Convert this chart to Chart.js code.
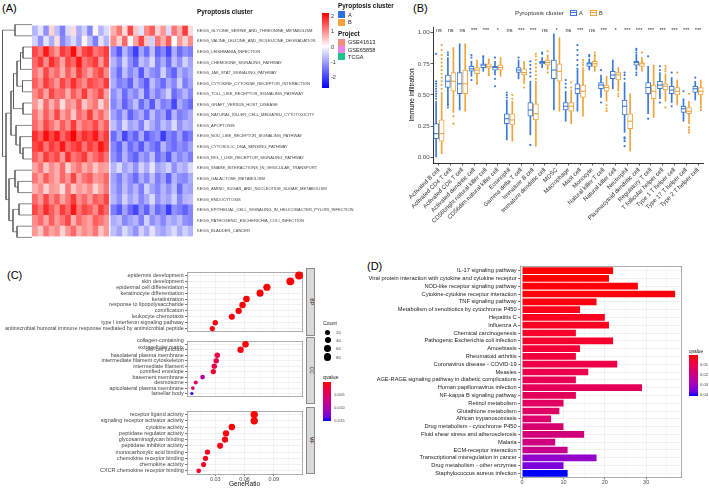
<!DOCTYPE html>
<html><head><meta charset="utf-8"><title>Pyroptosis figure</title>
<script src="https://cdn.jsdelivr.net/npm/chart.js@4.4.1/dist/chart.umd.min.js"></script>
<style>
html,body{margin:0;padding:0;background:#fff;}
body{position:relative;width:709px;height:488px;overflow:hidden;font-family:'Liberation Sans',Arial,sans-serif;}
.box{position:absolute;}
.box canvas{display:block;}
.t{position:absolute;white-space:nowrap;line-height:1;color:#1a1a1a;transform:scale(0.5);transform-origin:left top;}
.strip{position:absolute;background:#d9d9d9;border:0.6px solid #8a8a8a;box-sizing:border-box;display:flex;align-items:center;justify-content:center;overflow:visible;}
.strip span{writing-mode:vertical-rl;font-size:10px;line-height:1;color:#1a1a1a;transform:scale(0.5);}
.sw{position:absolute;}
</style></head><body>
<script>
// ---------------- DATA ----------------
// Panel A: heatmap
const heatTerms = ['KEGG_GLYCINE_SERINE_AND_THREONINE_METABOLISM','KEGG_VALINE_LEUCINE_AND_ISOLEUCINE_DEGRADATION','KEGG_LEISHMANIA_INFECTION','KEGG_CHEMOKINE_SIGNALING_PATHWAY','KEGG_JAK_STAT_SIGNALING_PATHWAY','KEGG_CYTOKINE_CYTOKINE_RECEPTOR_INTERACTION','KEGG_TOLL_LIKE_RECEPTOR_SIGNALING_PATHWAY','KEGG_GRAFT_VERSUS_HOST_DISEASE','KEGG_NATURAL_KILLER_CELL_MEDIATED_CYTOTOXICITY','KEGG_APOPTOSIS','KEGG_NOD_LIKE_RECEPTOR_SIGNALING_PATHWAY','KEGG_CYTOSOLIC_DNA_SENSING_PATHWAY','KEGG_RIG_I_LIKE_RECEPTOR_SIGNALING_PATHWAY','KEGG_SNARE_INTERACTIONS_IN_VESICULAR_TRANSPORT','KEGG_GALACTOSE_METABOLISM','KEGG_AMINO_SUGAR_AND_NUCLEOTIDE_SUGAR_METABOLISM','KEGG_ENDOCYTOSIS','KEGG_EPITHELIAL_CELL_SIGNALING_IN_HELICOBACTER_PYLORI_INFECTION','KEGG_PATHOGENIC_ESCHERICHIA_COLI_INFECTION','KEGG_BLADDER_CANCER'];
const heatRowsA = [
[-0.8,-0.3,-1.2,0.4,-0.7,-1.4,-0.4,0.3,-0.9,-0.5,-1.3,0.1,-0.8,-0.4],
[-0.5,-1.2,-0.3,-0.9,0.3,-1.3,-0.8,-0.4,-1.0,0.1,-0.7,-1.4,-0.3,-0.8],
[1.6,1.2,2.0,1.3,0.9,1.7,1.4,2.1,1.0,1.6,1.8,1.2,1.4,1.7],
[1.3,1.7,1.0,1.8,1.4,0.8,1.6,1.3,2.0,1.2,1.4,1.7,0.9,1.6],
[1.2,0.8,1.6,1.0,1.3,0.7,1.4,0.9,1.7,1.2,0.8,1.3,1.6,1.0],
[1.4,1.0,1.7,1.3,0.9,1.6,1.2,1.8,1.3,1.0,1.6,1.4,1.2,1.7],
[1.0,1.4,0.8,1.6,1.2,1.3,0.7,1.4,1.0,1.7,0.9,1.2,1.6,0.8],
[0.9,0.4,1.3,0.7,1.2,0.3,1.0,0.8,1.4,0.5,0.9,1.2,0.4,1.0],
[1.2,0.7,1.4,0.9,1.6,0.8,1.2,0.5,1.3,1.0,1.7,0.9,1.3,0.8],
[1.3,0.9,1.6,1.2,0.8,1.4,1.0,1.7,0.9,1.3,1.2,1.6,1.0,1.4],
[1.8,1.4,2.1,1.6,2.0,1.3,1.7,2.2,1.4,1.8,1.6,2.0,1.3,1.7],
[1.6,1.8,1.2,1.7,1.4,2.0,1.3,1.6,1.8,1.2,1.7,1.4,2.0,1.6],
[1.4,1.0,1.7,1.3,1.6,0.9,1.8,1.2,1.4,1.7,1.0,1.3,1.6,1.2],
[0.8,1.2,0.5,1.0,0.7,1.3,0.4,0.9,1.2,0.7,1.0,0.5,0.9,0.8],
[1.2,0.8,1.4,1.0,0.7,1.3,0.9,1.6,0.8,1.2,1.4,0.9,1.0,1.3],
[0.7,1.0,0.4,0.9,0.8,0.3,1.2,0.5,0.9,0.7,1.0,0.4,0.8,1.2],
[1.3,0.9,1.6,1.0,1.4,0.8,1.2,1.7,1.0,1.3,0.9,1.4,1.2,1.6],
[1.6,1.2,1.8,1.4,1.0,1.7,1.3,2.0,1.2,1.6,1.4,1.0,1.7,1.3],
[1.0,1.3,0.8,1.4,0.9,1.2,1.6,0.7,1.3,1.0,0.8,1.4,1.2,0.9],
[0.9,0.5,1.2,0.8,1.0,0.4,0.9,1.3,0.7,1.0,0.8,1.2,0.5,0.9]];
const heatRowsB = [
[0.7,1.2,0.3,1.6,0.5,-0.3,1.0,1.4,0.4,0.9,-0.4,1.2,0.7,1.7,0.3],
[1.0,0.4,1.3,-0.1,0.8,1.6,0.5,-0.5,1.2,0.7,1.4,0.0,0.9,0.4,1.0],
[-1.2,-1.8,-0.8,-1.4,-2.1,-1.0,-1.6,-0.7,-1.7,-1.3,-2.0,-0.9,-1.6,-1.2,-1.4],
[-0.8,-1.3,-0.5,-1.2,-1.7,-0.7,-1.0,-0.4,-1.4,-0.9,-1.6,-0.7,-1.2,-0.5,-1.0],
[-1.0,-1.6,-0.7,-1.3,-0.9,-1.8,-0.8,-1.2,-1.4,-0.5,-1.3,-1.7,-0.8,-1.2,-0.9],
[-0.9,-1.4,-1.2,-1.7,-0.8,-1.3,-1.8,-0.7,-1.2,-1.6,-0.9,-1.3,-0.5,-1.4,-1.0],
[-1.2,-0.8,-1.6,-1.0,-1.3,-0.7,-1.7,-0.9,-1.4,-1.0,-0.5,-1.6,-1.2,-0.8,-1.3],
[-1.3,-0.9,-1.7,-1.2,-0.7,-1.6,-1.0,-1.8,-0.8,-1.4,-1.2,-2.0,-0.9,-1.3,-1.6],
[-1.0,-1.4,-0.8,-1.7,-1.2,-0.9,-1.6,-0.7,-1.3,-1.0,-1.8,-0.8,-1.4,-1.2,-0.9],
[-0.7,-1.2,-0.4,-1.0,-0.8,-1.4,-0.5,-0.9,-1.3,-0.7,-1.0,-0.4,-1.2,-0.8,-0.9],
[-1.6,-1.0,-2.0,-1.3,-1.7,-0.9,-1.8,-1.4,-1.2,-2.1,-1.3,-1.6,-1.0,-1.7,-1.4],
[-1.3,-1.7,-0.9,-1.6,-1.2,-1.8,-1.0,-1.4,-1.7,-0.8,-1.3,-1.6,-1.2,-1.4,-1.0],
[-1.2,-1.6,-0.8,-1.4,-1.7,-1.0,-1.3,-0.7,-1.6,-1.2,-1.8,-0.9,-1.3,-1.0,-1.4],
[-0.8,-0.4,-1.0,-0.7,-1.2,-0.5,-0.9,-0.3,-1.0,-0.8,-0.5,-1.2,-0.7,-0.9,-0.4],
[-1.0,-1.4,-0.8,-1.2,-1.6,-0.9,-1.3,-0.7,-1.4,-1.0,-1.7,-0.8,-1.2,-1.3,-0.9],
[-0.9,-1.3,-0.7,-1.2,-0.8,-1.4,-0.5,-1.0,-1.3,-0.8,-1.2,-0.7,-1.6,-0.9,-1.0],
[-0.8,-1.2,-0.5,-1.0,-0.7,-1.3,-0.9,-0.4,-1.2,-0.8,-1.0,-0.5,-1.3,-0.8,-0.7],
[-1.4,-1.8,-1.0,-1.6,-2.0,-1.2,-1.7,-0.9,-1.6,-1.3,-2.1,-1.2,-1.4,-1.7,-1.3],
[-0.9,-0.7,-1.3,-1.0,-0.8,-1.4,-0.5,-1.2,-0.9,-1.3,-0.8,-1.0,-0.7,-1.2,-1.3],
[-0.7,-1.0,-0.4,-0.8,-1.2,-0.5,-0.9,-0.3,-0.8,-1.0,-0.7,-0.4,-0.9,-0.5,-0.8]];
const projectA = ['TCGA','TCGA','TCGA','TCGA','TCGA','TCGA','TCGA','TCGA','GSE41613','GSE41613','GSE65858','GSE65858','GSE65858','GSE65858'];
const projectB = ['TCGA','TCGA','TCGA','TCGA','TCGA','TCGA','TCGA','TCGA','GSE41613','GSE41613','GSE65858','GSE65858','GSE65858','GSE65858','GSE65858'];
// row dendrogram merges: [child1, child2, height]; negative = leaf row, positive = earlier merge
const dendroMerges = [[-1,-2,17],[-3,-4,9],[2,-5,11.5],[-6,-7,9.5],[3,4,15],[-8,-9,9],[5,6,18.5],[-12,-13,9],[-11,8,12],[-10,9,16],[7,10,21],[-15,-16,14],[-14,12,17],[-17,-18,13],[-19,-20,15],[14,15,19],[13,16,23],[11,17,26],[1,18,29.5]];
const heatLegendTicks = [2,1,0,-1,-2];

// Panel B: boxplots
const cellTypes = ['Activated B cell','Activated CD4 T cell','Activated CD8 T cell','Activated dendritic cell','CD56bright natural killer cell','CD56dim natural killer cell','Eosinophil','Gamma delta T cell','Immature B cell','Immature dendritic cell','MDSC','Macrophage','Mast cell','Monocyte','Natural killer T cell','Natural killer cell','Neutrophil','Plasmacytoid dendritic cell','Regulatory T cell','T follicular helper cell','Type 1 T helper cell','Type 17 T helper cell','Type 2 T helper cell'];
const sigLabels = ['ns','ns','ns','***','***','*','ns','***','***','ns','*','ns','***','ns','***','*','***','***','***','***','***','***','***'];
const medA = [0.19,0.61,0.59,0.71,0.74,0.72,0.31,0.70,0.38,0.76,0.70,0.41,0.55,0.75,0.58,0.66,0.41,0.76,0.56,0.58,0.54,0.39,0.55];
const q1A  = [0.15,0.56,0.51,0.69,0.72,0.70,0.27,0.68,0.33,0.75,0.63,0.38,0.51,0.73,0.55,0.63,0.34,0.74,0.51,0.55,0.51,0.36,0.52];
const q3A  = [0.27,0.66,0.68,0.73,0.75,0.73,0.35,0.72,0.44,0.77,0.78,0.44,0.59,0.76,0.60,0.69,0.46,0.77,0.60,0.61,0.57,0.41,0.57];
const loA  = [0.00,0.42,0.38,0.65,0.69,0.66,0.14,0.63,0.18,0.72,0.38,0.29,0.37,0.70,0.48,0.55,0.20,0.70,0.35,0.47,0.44,0.29,0.46];
const hiA  = [0.45,0.80,0.91,0.77,0.79,0.77,0.46,0.78,0.61,0.80,0.99,0.53,0.70,0.79,0.66,0.78,0.60,0.81,0.73,0.68,0.64,0.47,0.61];
const medB = [0.19,0.61,0.59,0.70,0.73,0.72,0.30,0.68,0.35,0.76,0.69,0.41,0.53,0.75,0.56,0.66,0.29,0.75,0.53,0.57,0.53,0.37,0.53];
const q1B  = [0.13,0.53,0.51,0.67,0.715,0.70,0.26,0.66,0.30,0.74,0.61,0.37,0.48,0.73,0.53,0.62,0.23,0.73,0.47,0.54,0.50,0.35,0.50];
const q3B  = [0.30,0.68,0.70,0.72,0.75,0.74,0.35,0.71,0.43,0.78,0.75,0.44,0.58,0.77,0.58,0.68,0.35,0.76,0.58,0.59,0.56,0.40,0.56];
const loB  = [0.03,0.36,0.37,0.61,0.68,0.65,0.13,0.59,0.09,0.70,0.37,0.27,0.33,0.69,0.45,0.53,0.05,0.69,0.32,0.45,0.42,0.27,0.42];
const hiB  = [0.52,0.88,0.91,0.78,0.79,0.80,0.45,0.77,0.61,0.82,0.96,0.54,0.72,0.80,0.65,0.72,0.51,0.80,0.74,0.67,0.62,0.45,0.62];
const outA = [[0.47,0.49,0.51,0.53,0.55,0.57,0.59,0.61,0.83],[0.40,0.42,0.82,0.84],[],[0.62,0.80,0.82],[0.80,0.81],[0.57,0.63,0.80],[0.48,0.50,0.52],[0.80],[0.10,0.65,0.68,0.71,0.74,0.77],[0.83,0.84],[],[0.56,0.59,0.62],[0.71,0.74,0.78,0.82,0.86,0.90],[0.81,0.82],[0.44,0.70],[],[0.09,0.13,0.15,0.16,0.63,0.66,0.68],[0.66,0.68,0.82,0.84,0.86,0.87],[0.31,0.81],[0.44,0.70,0.73],[0.41,0.68],[0.53],[0.64]];
const outB = [[0.55,0.58,0.61,0.64,0.67,0.70,0.73,0.76,0.79,0.82,0.86,0.90],[0.27,0.33],[],[0.59,0.60],[0.66,0.67],[],[0.47,0.50],[0.56],[0.63,0.66,0.69,0.72,0.75,0.78,0.81,0.83],[0.68,0.85],[],[0.56,0.60],[0.74,0.76,0.78],[0.81,0.82,0.84],[0.37,0.39,0.42],[0.49,0.51],[],[0.84],[],[0.40,0.69,0.71,0.73],[0.68],[0.20,0.22,0.24,0.51],[0.38,0.40,0.41]];
const boxYTicks = [0,0.25,0.5,0.75,1];

// Panel C: GO dot plot
const bpTerms = ['epidermis development','skin development','epidermal cell differentiation','keratinocyte differentiation','keratinization','response to lipopolysaccharide','cornification','leukocyte chemotaxis','type I interferon signaling pathway','antimicrobial humoral immune response mediated by antimicrobial peptide'];
const bpRatio = [0.116,0.107,0.083,0.076,0.062,0.058,0.054,0.047,0.030,0.027];
const bpCount = [94,87,67,62,50,47,44,38,24,22];
const bpQ = [0.00001,0.00001,0.00002,0.00003,0.0001,0.0001,0.0002,0.0003,0.0004,0.0006];
const ccTerms = [['collagen-containing','extracellular matrix'],'cell-cell junction','basolateral plasma membrane','intermediate filament cytoskeleton','intermediate filament','cornified envelope','basement membrane','desmosome','apicolateral plasma membrane','lamellar body'];
const ccRatio = [0.061,0.056,0.032,0.031,0.029,0.028,0.017,0.010,0.007,0.006];
const ccCount = [49,45,26,25,23,22,14,8,6,5];
const ccQ = [0.0002,0.0006,0.0030,0.0033,0.0036,0.0022,0.0095,0.0048,0.0055,0.0150];
const mfTerms = ['receptor ligand activity','signaling receptor activator activity','cytokine activity','peptidase regulator activity','glycosaminoglycan binding','peptidase inhibitor activity','monocarboxylic acid binding','chemokine receptor binding','chemokine activity','CXCR chemokine receptor binding'];
const mfRatio = [0.070,0.070,0.047,0.041,0.040,0.035,0.022,0.020,0.018,0.013];
const mfCount = [73,73,49,43,42,37,23,21,19,14];
const mfQ = [0.00001,0.00001,0.0001,0.0003,0.0004,0.0006,0.0012,0.0010,0.0011,0.0020];
const countLegend = [20,40,60,80];
const goQTicks = [0.005,0.010,0.015];

// Panel D: KEGG bar chart
const keggTerms = ['IL-17 signaling pathway','Viral protein interaction with cytokine and cytokine receptor','NOD-like receptor signaling pathway','Cytokine-cytokine receptor interaction','TNF signaling pathway','Metabolism of xenobiotics by cytochrome P450','Hepatitis C','Influenza A','Chemical carcinogenesis','Pathogenic Escherichia coli infection','Amoebiasis','Rheumatoid arthritis','Coronavirus disease - COVID-19','Measles','AGE-RAGE signaling pathway in diabetic complications','Human papillomavirus infection','NF-kappa B signaling pathway','Retinol metabolism','Glutathione metabolism','African trypanosomiasis','Drug metabolism - cytochrome P450','Fluid shear stress and atherosclerosis','Malaria','ECM-receptor interaction','Transcriptional misregulation in cancer','Drug metabolism - other enzymes','Staphylococcus aureus infection'];
const keggCount = [22,21,28,37,18,14,20,21,13,22,14,13,23,16,13,29,13,10,9,7,10,15,8,11,18,10,11];
const keggQ = [0.0010,0.0012,0.0014,0.0015,0.0020,0.0030,0.0035,0.0040,0.0050,0.0055,0.0070,0.0080,0.0095,0.0105,0.0115,0.0125,0.0130,0.0140,0.0150,0.0160,0.0170,0.0190,0.0200,0.0220,0.0330,0.0360,0.0420];
const keggQTicks = [0.01,0.02,0.03,0.04];

// ---------------- STYLE / HELPERS ----------------
const FONT = "'Liberation Sans', Arial, sans-serif";
Chart.defaults.font.family = FONT;
Chart.defaults.animation = false;
Chart.defaults.events = [];
Chart.defaults.responsive = false;
Chart.defaults.devicePixelRatio = 1;
Chart.defaults.plugins.legend.display = false;
Chart.defaults.plugins.tooltip.enabled = false;

const colA = '#3B78D8', colB = '#EEA43C';
const clusterColors = {A: '#2F6FE0', B: '#F7A23A'};
const projectColors = {GSE41613: '#F28B82', GSE65858: '#EE82EE', TCGA: '#1EC28B'};

function addCanvas(x, y, w, h) {
  const d = document.createElement('div'); d.className = 'box';
  Object.assign(d.style, {left: x + 'px', top: y + 'px', width: w + 'px', height: h + 'px'});
  const c = document.createElement('canvas'); c.width = w; c.height = h;
  c.style.width = w + 'px'; c.style.height = h + 'px';
  d.appendChild(c); document.body.appendChild(d); return c;
}
function txt(s, x, y, size, o = {}) {
  const e = document.createElement('div'); e.className = 't'; e.textContent = s;
  e.style.fontSize = (size * 2) + 'px';
  e.style.left = x + 'px'; e.style.top = (y - size * 0.5) + 'px';
  if (o.bold) e.style.fontWeight = 'bold';
  if (o.color) e.style.color = o.color;
  document.body.appendChild(e); return e;
}
function rect(x, y, w, h, css) {
  const e = document.createElement('div'); e.className = 'sw';
  Object.assign(e.style, {left: x + 'px', top: y + 'px', width: w + 'px', height: h + 'px'}, css);
  document.body.appendChild(e); return e;
}
function heatColor(v) {
  if (v >= 0) { const t = Math.min(v / 2.2, 1); const c = Math.round(255 * (1 - t)); return `rgb(255,${c},${c})`; }
  const t = Math.min(-v / 2.75, 1); const c = Math.round(255 * (1 - t)); return `rgb(${c},${c},255)`;
}
function toLin(c){c/=255;return c<=0.04045?c/12.92:Math.pow((c+0.055)/1.055,2.4);}
function toS(c){c=c<=0.0031308?12.92*c:1.055*Math.pow(c,1/2.4)-0.055;return Math.round(Math.max(0,Math.min(1,c))*255);}
function rgb2lab(r,g,b){const R=toLin(r),G=toLin(g),B=toLin(b);
  const X=(0.4124*R+0.3576*G+0.1805*B)/0.95047,Y=0.2126*R+0.7152*G+0.0722*B,Z=(0.0193*R+0.1192*G+0.9505*B)/1.08883;
  const f=t=>t>0.008856?Math.cbrt(t):7.787*t+16/116;const fx=f(X),fy=f(Y),fz=f(Z);
  return [116*fy-16,500*(fx-fy),200*(fy-fz)];}
function lab2rgb(L,a,b){const fy=(L+16)/116,fx=fy+a/500,fz=fy-b/200;
  const fi=t=>t>0.206893?t*t*t:(t-16/116)/7.787;
  const X=fi(fx)*0.95047,Y=fi(fy),Z=fi(fz)*1.08883;
  const R=3.2406*X-1.5372*Y-0.4986*Z,G=-0.9689*X+1.8758*Y+0.0415*Z,B=0.0557*X-0.2040*Y+1.0570*Z;
  return 'rgb('+toS(R)+','+toS(G)+','+toS(B)+')';}
const LAB_RED = rgb2lab(255,0,0), LAB_BLUE = rgb2lab(0,0,255);
function gradColor(t){t=Math.max(0,Math.min(1,t));return lab2rgb(...LAB_RED.map((v,i)=>v+(LAB_BLUE[i]-v)*t));}
function gradCSS(){const s=[];for(let k=0;k<=10;k++)s.push(gradColor(k/10)+' '+(k*10)+'%');return 'linear-gradient(to bottom,'+s.join(',')+')';}
const GO_Q = [0, 0.0155], KEGG_Q = [0.001, 0.042];
const goColor = q => gradColor((q - GO_Q[0]) / (GO_Q[1] - GO_Q[0]));
const keggColor = q => gradColor((q - KEGG_Q[0]) / (KEGG_Q[1] - KEGG_Q[0]));
const allCounts = bpCount.concat(ccCount, mfCount);
const CMIN = Math.min(...allCounts), CMAX = Math.max(...allCounts);
const sizeFor = c => 1.6 + 2.4 * Math.sqrt(Math.max(0, c - CMIN) / (CMAX - CMIN));
const frameAxes = (color) => ({
  xTop: {type: 'linear', position: 'top', display: true, grid: {display: false, drawTicks: false}, ticks: {display: false}, border: {display: true, color, width: 0.7}, afterFit: s => { s.height = 0; }},
  yRight: {type: 'linear', position: 'right', display: true, grid: {display: false, drawTicks: false}, ticks: {display: false}, border: {display: true, color, width: 0.7}, afterFit: s => { s.width = 0; }}
});

// ---------------- PANEL LABELS ----------------
txt('(A)', 2, 8.5, 11, {color: '#000'});
txt('(B)', 413, 8.5, 11, {color: '#000'});
txt('(C)', 7, 275, 11, {color: '#000'});
txt('(D)', 367, 266, 11, {color: '#000'});

// ---------------- PANEL A ----------------
// dendrogram
(function () {
  const nodes = [];
  const info = id => id < 0 ? {y: -id, h: 0} : nodes[id - 1];
  const datasets = dendroMerges.map(([a, b, h]) => {
    const A = info(a), B = info(b);
    nodes.push({y: (A.y + B.y) / 2, h});
    return {data: [{x: A.h, y: A.y}, {x: h, y: A.y}, {x: h, y: B.y}, {x: B.h, y: B.y}],
      showLine: true, pointRadius: 0, borderColor: '#555', borderWidth: 0.7, fill: false, clip: false};
  });
  new Chart(addCanvas(0, 19, 32, 224), {
    type: 'scatter', data: {datasets},
    options: {layout: {padding: 0},
      scales: {x: {type: 'linear', display: false, reverse: true, min: 0, max: 32},
               y: {type: 'linear', display: false, reverse: true, min: 0.5, max: 20.5}}}
  });
})();

const GAP = 0.36;
const nA = heatRowsA[0].length, nB = heatRowsB[0].length;
const heatTotal = nA + GAP + nB;

// annotation bars
(function () {
  const ds = [];
  const col = (cl, pr) => ({data: [1, 1], backgroundColor: [clusterColors[cl], projectColors[pr]], borderWidth: 0, barPercentage: 0.9, categoryPercentage: 1});
  projectA.forEach(p => ds.push(col('A', p)));
  ds.push({data: [GAP, GAP], backgroundColor: 'rgba(0,0,0,0)', borderWidth: 0, barPercentage: 0.9, categoryPercentage: 1});
  projectB.forEach(p => ds.push(col('B', p)));
  new Chart(addCanvas(32, 4, 290, 14), {
    type: 'bar', data: {labels: ['Pyroptosis cluster', 'Project'], datasets: ds},
    options: {indexAxis: 'y', layout: {padding: 0},
      scales: {x: {stacked: true, display: false, min: 0, max: heatTotal},
               y: {stacked: true, position: 'right', grid: {display: false, drawTicks: false}, border: {display: false},
                   ticks: {font: {size: 6.4, weight: 'bold'}, color: '#111', padding: 4}, afterFit: s => { s.width = 129; }}}}
  });
})();

// heatmap
(function () {
  const ds = [];
  const cell = vals => ({data: vals.map(() => 1), backgroundColor: vals.map(heatColor), borderWidth: 0, barPercentage: 1, categoryPercentage: 1});
  for (let c = 0; c < nA; c++) ds.push(cell(heatRowsA.map(r => r[c])));
  ds.push({data: heatTerms.map(() => GAP), backgroundColor: 'rgba(0,0,0,0)', borderWidth: 0, barPercentage: 1, categoryPercentage: 1, inflateAmount: 0});
  for (let c = 0; c < nB; c++) ds.push(cell(heatRowsB.map(r => r[c])));
  new Chart(addCanvas(32, 19, 330, 224), {
    type: 'bar', data: {labels: heatTerms, datasets: ds},
    options: {indexAxis: 'y', layout: {padding: 0},
      scales: {x: {stacked: true, display: false, min: 0, max: heatTotal},
               y: {stacked: true, position: 'right', grid: {display: false, drawTicks: false}, border: {display: false},
                   ticks: {font: {size: 4.1}, color: '#444', padding: 4, autoSkip: false}, afterFit: s => { s.width = 169; }}}}
  });
})();

// heatmap legends (color key + annotation keys)
rect(322, 13, 6.5, 75, {background: 'linear-gradient(to bottom, rgb(255,0,0) 0%, #ffffff 44.4%, rgb(0,0,255) 100%)'});
heatLegendTicks.forEach(v => txt(String(v), 330.5, 13 + (2.2 - v) / 4.95 * 75, 5.6, {color: '#333'}));
txt('Pyroptosis cluster', 338, 6, 6.4, {bold: true, color: '#111'});
rect(338, 11, 7, 7, {background: clusterColors.A});
txt('A', 348, 14.5, 5.6, {color: '#222'});
rect(338, 18.5, 7, 7, {background: clusterColors.B});
txt('B', 348, 22, 5.6, {color: '#222'});
txt('Project', 338, 34, 6.4, {bold: true, color: '#111'});
['GSE41613', 'GSE65858', 'TCGA'].forEach((p, i) => {
  rect(338, 38.5 + i * 7.3, 7, 7, {background: projectColors[p]});
  txt(p, 348, 42 + i * 7.3, 5.6, {color: '#222'});
});

// ---------------- PANEL B ----------------
(function () {
  const off = 0.235;
  const pos = (i, s) => i + 1 + s * off;
  const mk = (lo, hi, s) => lo.map((v, i) => ({x: pos(i, s), y: [v, hi[i]]}));
  const pts = (arr, s) => arr.map((v, i) => ({x: pos(i, s), y: v}));
  const outs = (arr, s) => arr.flatMap((o, i) => o.map(v => ({x: pos(i, s), y: v})));
  const whisker = (lo, hi, s, c) => ({type: 'bar', data: mk(lo, hi, s), backgroundColor: c, barThickness: 1, grouped: false, borderWidth: 0, order: 4});
  const box = (q1, q3, s, c) => ({type: 'bar', data: mk(q1, q3, s), backgroundColor: '#fff', borderColor: c, borderWidth: 1, borderSkipped: false, barThickness: 5, grouped: false, order: 3});
  const med = (m, s, c) => ({type: 'scatter', data: pts(m, s), pointStyle: 'line', pointRadius: 2.5, borderColor: c, borderWidth: 1.1, order: 2});
  const out = (o, s, c) => ({type: 'scatter', data: outs(o, s), pointRadius: 1.1, backgroundColor: c, borderWidth: 0, order: 1});
  const sigPlugin = {id: 'sig', afterDatasetsDraw(chart) {
    const {ctx, scales: {x, y}} = chart; ctx.save();
    ctx.font = '5.6px ' + FONT; ctx.fillStyle = '#333'; ctx.textAlign = 'center'; ctx.textBaseline = 'middle';
    sigLabels.forEach((s, i) => ctx.fillText(s, x.getPixelForValue(i + 1), y.getPixelForValue(1.02)));
    ctx.restore(); }};
  new Chart(addCanvas(400, 0, 309, 240), {
    type: 'bar',
    data: {datasets: [whisker(loA, hiA, -1, colA), whisker(loB, hiB, 1, colB), box(q1A, q3A, -1, colA), box(q1B, q3B, 1, colB),
                      med(medA, -1, colA), med(medB, 1, colB), out(outA, -1, colA), out(outB, 1, colB)]},
    plugins: [sigPlugin],
    options: {layout: {padding: {top: 27, right: 2, left: 0, bottom: 0}},
      scales: {
        x: {type: 'linear', min: 0.5, max: cellTypes.length + 0.5, offset: false,
            afterBuildTicks: s => { s.ticks = cellTypes.map((_, i) => ({value: i + 1})); },
            ticks: {callback: (v, i) => cellTypes[i], autoSkip: false, minRotation: 45, maxRotation: 45, font: {size: 6}, color: '#333', padding: 1},
            grid: {display: true, drawOnChartArea: false, offset: false, tickLength: 2.5, tickColor: '#333', tickWidth: 0.8},
            border: {display: true, color: '#000', width: 0.8},
            afterFit: s => { s.height = 77; }},
        y: {type: 'linear', min: -0.045, max: 1.045,
            afterBuildTicks: s => { s.ticks = boxYTicks.map(v => ({value: v})); },
            ticks: {callback: v => v.toFixed(2), font: {size: 6.2}, color: '#4d4d4d', padding: 0.8},
            grid: {display: true, drawOnChartArea: false, tickLength: 2.5, tickColor: '#333', tickWidth: 0.8},
            border: {display: true, color: '#000', width: 0.8},
            title: {display: true, text: 'Immune infiltration', font: {size: 6.5}, color: '#000', padding: {top: 8, bottom: 0}},
            afterFit: s => { s.width = 33; }}
      }}
  });
  // legend
  txt('Pyroptosis cluster', 515, 12.7, 6.2, {color: '#333'});
  [['A', colA, 569.5], ['B', colB, 590]].forEach(([k, c, x]) => {
    rect(x, 9.5, 7, 6.5, {border: '0.8px solid ' + c, boxSizing: 'border-box', background: '#fff'});
    rect(x, 12.4, 7, 0.8, {background: c});
    txt(k, x + 9, 12.7, 5.6, {color: '#333'});
  });
})();

// ---------------- PANEL C ----------------
function makeDot(top, height, terms, ratio, count, qv, showX, strip) {
  const xAxisH = showX ? 14 : 0;
  const major = v => Math.abs(v / 0.03 - Math.round(v / 0.03)) < 1e-6;
  new Chart(addCanvas(0, top, 306, height), {
    type: 'bubble',
    data: {datasets: [{data: terms.map((_, i) => ({x: ratio[i], y: i, r: sizeFor(count[i])})),
      backgroundColor: qv.map(goColor), borderWidth: 0, clip: false}]},
    options: {layout: {padding: 0},
      scales: Object.assign({
        x: {type: 'linear', min: 0.001, max: 0.119,
            afterBuildTicks: s => { s.ticks = [0.015, 0.03, 0.045, 0.06, 0.075, 0.09, 0.105].map(v => ({value: v})); },
            ticks: {display: showX, callback: v => major(v) ? v.toFixed(2) : '', font: {size: 5.5}, color: '#4d4d4d', padding: 0.5, autoSkip: false, maxRotation: 0},
            grid: {color: '#EBEBEB', lineWidth: c => (c.tick && major(c.tick.value)) ? 0.7 : 0.35, drawTicks: showX, tickLength: 2,
                   tickColor: c => (c.tick && major(c.tick.value)) ? '#333' : 'rgba(0,0,0,0)'},
            border: {display: true, color: '#8a8a8a', width: 0.7},
            title: {display: showX, text: 'GeneRatio', font: {size: 6.5}, color: '#111', padding: {top: 0, bottom: 0}},
            afterFit: s => { s.height = xAxisH; }},
        y: {type: 'category', labels: terms, offset: true, reverse: false,
            ticks: {font: {size: 5.45}, color: '#444', padding: 1.2, autoSkip: false},
            grid: {color: '#EBEBEB', lineWidth: 0.7, offset: false, tickLength: 2, tickColor: '#333'},
            border: {display: true, color: '#8a8a8a', width: 0.7},
            afterFit: s => { s.width = 187; }}
      }, frameAxes('#8a8a8a'))}
  });
  const st = document.createElement('div'); st.className = 'strip';
  Object.assign(st.style, {left: '306px', top: top + 'px', width: '9px', height: (height - xAxisH) + 'px'});
  const sp = document.createElement('span'); sp.textContent = strip; st.appendChild(sp); document.body.appendChild(st);
}
makeDot(268, 68, bpTerms, bpRatio, bpCount, bpQ, false, 'BP');
makeDot(337, 67, ccTerms, ccRatio, ccCount, ccQ, false, 'CC');
makeDot(407, 81, mfTerms, mfRatio, mfCount, mfQ, true, 'MF');
// legends C
txt('Count', 322.5, 324, 5.2, {color: '#222'});
countLegend.forEach((c, i) => {
  const r = sizeFor(c), cy = [332.3, 340.3, 348.3, 357][i];
  rect(327.7 - r, cy - r, 2 * r, 2 * r, {background: '#000', borderRadius: '50%'});
  txt(String(c), 336, cy, 4.3, {color: '#444'});
});
txt('qvalue', 322.5, 378, 5.2, {color: '#222'});
rect(322.7, 381.7, 8, 39.3, {background: gradCSS()});
goQTicks.forEach(q => txt(q.toFixed(3), 334, 381.7 + (q - GO_Q[0]) / (GO_Q[1] - GO_Q[0]) * 39.3, 4.3, {color: '#444'}));

// ---------------- PANEL D ----------------
(function () {
  new Chart(addCanvas(360, 258, 349, 230), {
    type: 'bar',
    data: {labels: keggTerms, datasets: [{data: keggCount, backgroundColor: keggQ.map(keggColor), borderWidth: 0, barPercentage: 0.86, categoryPercentage: 1}]},
    options: {indexAxis: 'y', layout: {padding: {top: 8.7, right: 27.3, left: 0, bottom: 0}},
      scales: Object.assign({
        x: {type: 'linear', min: -0.35, max: 38.6,
            afterBuildTicks: s => { s.ticks = [0, 5, 10, 15, 20, 25, 30, 35].map(v => ({value: v})); },
            ticks: {callback: v => v % 10 === 0 ? String(v) : '', font: {size: 5.5}, color: '#4d4d4d', padding: 0.3, autoSkip: false, maxRotation: 0},
            grid: {color: '#EBEBEB', lineWidth: c => (c.tick && c.tick.value % 10 === 0) ? 0.7 : 0.35, tickLength: 2,
                   tickColor: c => (c.tick && c.tick.value % 10 === 0) ? '#333' : 'rgba(0,0,0,0)'},
            border: {display: true, color: '#8a8a8a', width: 0.7},
            afterFit: s => { s.height = 10.7; }},
        y: {type: 'category', offset: true,
            ticks: {font: {size: 5.7}, color: '#222', padding: 1.5, autoSkip: false},
            grid: {color: '#EBEBEB', lineWidth: 0.7, offset: false, tickLength: 2.5, tickColor: '#333'},
            border: {display: true, color: '#8a8a8a', width: 0.7},
            afterFit: s => { s.width = 160.7; }}
      }, frameAxes('#8a8a8a'))}
  });
  txt('qvalue', 688.5, 351.5, 4.8, {color: '#222'});
  rect(689, 355, 8.7, 41, {background: gradCSS()});
  keggQTicks.forEach(q => txt(q.toFixed(2), 700, 355 + (q - KEGG_Q[0]) / (KEGG_Q[1] - KEGG_Q[0]) * 41, 4.2, {color: '#444'}));
})();
</script>
</body></html>
